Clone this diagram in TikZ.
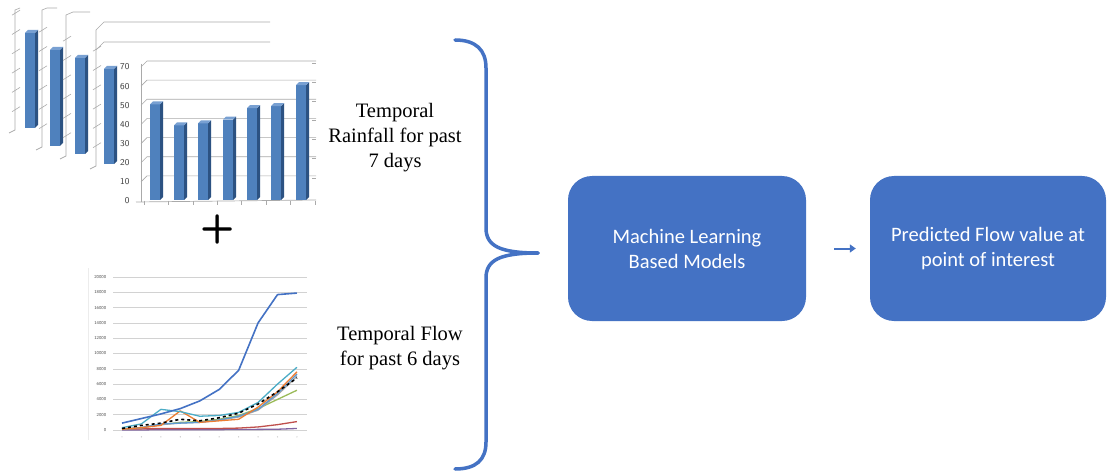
\documentclass[tikz,border=0pt]{standalone}
\usepackage{fontspec}
\setmainfont{Liberation Serif}
\newfontfamily\boxfont{Carlito}
\usetikzlibrary{arrows.meta}
\definecolor{bblue}{RGB}{68,114,196}
\definecolor{barblue}{RGB}{79,129,189}
\definecolor{bardark}{RGB}{44,82,130}
\definecolor{barlight}{RGB}{120,160,210}
\definecolor{axgray}{RGB}{170,170,170}
\definecolor{lteal}{RGB}{75,172,198}
\definecolor{lorange}{RGB}{237,125,49}
\definecolor{lgreen}{RGB}{155,187,89}
\definecolor{llblue}{RGB}{91,155,213}
\definecolor{lgrey}{RGB}{165,165,165}
\definecolor{lred}{RGB}{192,80,77}
\definecolor{lpurple}{RGB}{128,100,162}
\newcommand\tdbar[3]{%
  \fill[barblue] (#1,#2) rectangle (#1+10,#3);
  \fill[bardark] (#1+10,#2) -- (#1+13,#2-3) -- (#1+13,#3-3) -- (#1+10,#3) -- cycle;
  \fill[barlight] (#1,#2) -- (#1+3,#2-3) -- (#1+13,#2-3) -- (#1+10,#2) -- cycle;
}
\newcommand\panelaxis[3]{% x, top, bottom
  \draw[axgray,line width=0.7pt] (#1,#2) -- (#1,#3) -- (#1-6,#3+3);
  \foreach \k in {1,...,6}{
    \draw[axgray,line width=0.6pt] (#1-3,#3-\k*19.3+1) -- (#1+5,#3-\k*19.3-4);
  }
}
\tikzset{
  lbl/.style={align=center, font=\fontsize{20.5}{25}\selectfont, text=black},
  mbox/.style={draw=none, fill=bblue, rounded corners=24pt, minimum width=238pt,
    minimum height=145pt, align=center, text=white,
    font=\boxfont\fontsize{20.5}{25}\selectfont},
  flowarrow/.style={draw=bblue, line width=2pt, -{Triangle[length=6pt,width=8pt]},
    shorten <=28pt, shorten >=14pt},
  bracestyle/.style={draw=bblue, line width=3.5pt, line cap=round},
  grid/.style={gray!35, line width=0.6pt},
  series/.style={line width=1.3pt, line join=round},
}
\begin{document}
\begin{tikzpicture}[x=1pt,y=-1pt]
\useasboundingbox (0,0) rectangle (1108,473);
\fill[white] (0,0) rectangle (1108,473);

% ---------- stacked bar chart panels ----------
% panel 1
\panelaxis{15}{10}{130}
\draw[axgray,line width=0.6pt] (15,10) -- (20,8);
\tdbar{25}{33}{128}
% panel 2
\panelaxis{42}{10}{147}
\draw[axgray,line width=0.6pt] (42,10) -- (47,8) -- (57,8);
\tdbar{50}{50}{146}
% panel 3
\panelaxis{66}{15}{156}
\draw[axgray,line width=0.6pt] (66,15) -- (73,12) -- (90,12);
\tdbar{75}{58}{154}
% panel 4
\panelaxis{96}{30}{166}
\draw[axgray,line width=0.6pt] (96,30) -- (104,22) -- (270,22);
\draw[axgray,line width=0.6pt] (96,50) -- (104,42) -- (270,42);
\tdbar{104}{69}{164}

% main chart
\foreach \v in {0,10,...,70}{
  \node[font=\sffamily\fontsize{9}{9}\selectfont, text=black!75, anchor=east] at (133,{201-1.914*\v}) {\v};
}
\foreach \v in {10,20,...,70}{
  \draw[axgray,line width=0.6pt] (141,{201-1.914*\v}) -- (147,{195-1.914*\v}) -- (316,{195-1.914*\v});
  \draw[axgray,line width=0.6pt] (312,{197-1.914*\v}) -- (316,{197-1.914*\v});
}
\draw[axgray,line width=0.7pt] (141,64) -- (141,202);
\draw[axgray,line width=0.7pt] (136,202) -- (316,200);
\foreach \i in {0,...,7}{
  \draw[axgray,line width=0.6pt] (144+\i*24.4,201) -- (144+\i*24.4,205);
}
\tdbar{150}{104.3}{200}
\tdbar{174}{125.4}{200}
\tdbar{198}{123.4}{200}
\tdbar{223}{119.6}{200}
\tdbar{247}{108.1}{200}
\tdbar{271}{106.2}{200}
\tdbar{296}{85.2}{200}

% plus
\node[font=\sffamily\fontsize{40}{40}\selectfont\bfseries] (plus) at (218,229) {+};

% ---------- line chart ----------
\draw[gray!15, line width=0.6pt] (88,268) -- (88,440);
\begin{scope}[shift={(122,430)}, x=19.44pt, y=7.65pt]
  \foreach \v in {0,2,...,20}{
    \draw[grid] (-0.46,\v) -- (9.54,\v);
  }
  \foreach \v/\t in {0/0,2/2000,4/4000,6/6000,8/8000,10/10000,12/12000,14/14000,16/16000,18/18000,20/20000}{
    \node[font=\sffamily\fontsize{4.5}{4.5}\selectfont, text=black!70, anchor=east, inner sep=1pt] at (-0.75,\v) {\t};
  }
  \foreach \i in {0,...,9}{
    \fill[gray!60] (\i,-0.9) circle (0.6pt);
  }
  \draw[series, lpurple] plot coordinates {(0,0) (1,0) (2,0.05) (3,0.05) (4,0.05) (5,0.05) (6,0.06) (7,0.08) (8,0.1) (9,0.2)};
  \draw[series, lred] plot coordinates {(0,0.1) (1,0.15) (2,0.2) (3,0.2) (4,0.2) (5,0.2) (6,0.25) (7,0.4) (8,0.7) (9,1.1)};
  \draw[series, lgreen] plot coordinates {(0,0.1) (1,0.3) (2,0.7) (3,1.0) (4,1.1) (5,1.4) (6,1.9) (7,2.8) (8,4.0) (9,5.2)};
  \draw[series, lgrey] plot coordinates {(0,0.1) (1,0.3) (2,0.7) (3,0.9) (4,1.0) (5,1.3) (6,1.7) (7,2.6) (8,4.6) (9,7.0)};
  \draw[series, llblue] plot coordinates {(0,0.1) (1,0.3) (2,0.8) (3,0.9) (4,1.0) (5,1.3) (6,1.8) (7,2.7) (8,4.8) (9,7.3)};
  \draw[series, lorange] plot coordinates {(0,0.1) (1,0.3) (2,0.6) (3,2.5) (4,1.0) (5,1.2) (6,1.4) (7,3.0) (8,5.0) (9,7.6)};
  \draw[series, lteal] plot coordinates {(0,0.3) (1,0.8) (2,2.7) (3,2.4) (4,1.8) (5,1.9) (6,2.3) (7,3.6) (8,6.0) (9,8.2)};
  \draw[series, black, dashed, line width=1.6pt] plot coordinates {(0,0.2) (1,0.6) (2,0.9) (3,1.4) (4,1.2) (5,1.6) (6,2.2) (7,3.4) (8,5.0) (9,6.8)};
  \draw[series, bblue, line width=1.6pt] plot coordinates {(0,0.9) (1,1.5) (2,2.1) (3,2.8) (4,3.8) (5,5.3) (6,7.8) (7,14.0) (8,17.7) (9,17.9)};
\end{scope}

% ---------- labels ----------
\node[lbl] (rain) at (395,138) {Temporal\\Rainfall for past\\7 days};
\node[lbl] (flow) at (400,348) {Temporal Flow\\for past 6 days};

% ---------- brace ----------
\draw[bracestyle] (455,40) .. controls (476,40) and (486,50) .. (486,68)
  -- (486,228) .. controls (486,246) and (500,253) .. (538,253);
\draw[bracestyle] (538,253) .. controls (500,253) and (486,260) .. (486,278)
  -- (486,442) .. controls (486,460) and (476,469) .. (455,469);

% ---------- boxes ----------
\node[mbox] (ml) at (687,248.5) {Machine Learning\\Based Models};
\node[mbox, minimum width=236pt] (pred) at (988,248.5) {Predicted Flow value at\\point of interest};
\draw[flowarrow] (ml.east) -- (pred.west);
\end{tikzpicture}
\end{document}
